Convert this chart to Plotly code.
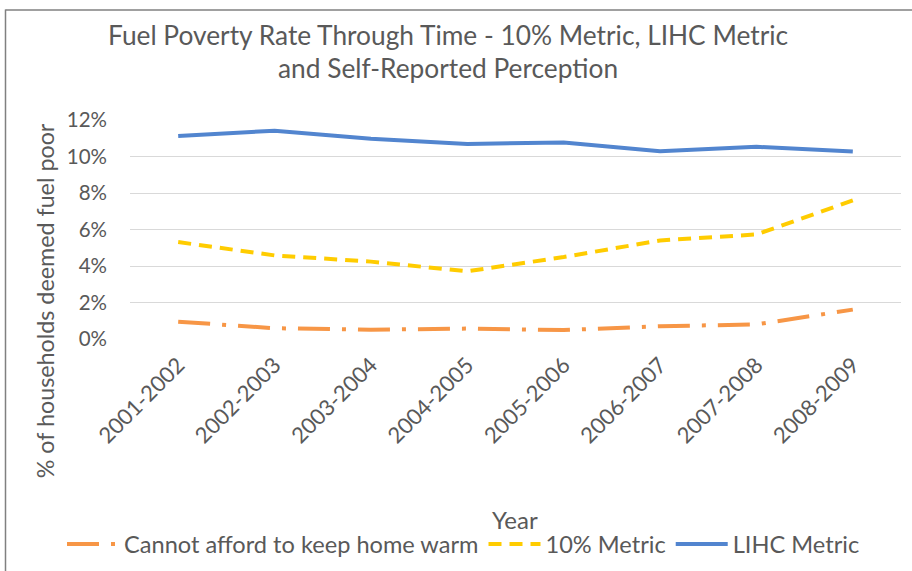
import plotly.graph_objects as go

years = ["2001-2002", "2002-2003", "2003-2004", "2004-2005",
         "2005-2006", "2006-2007", "2007-2008", "2008-2009"]
cannot_afford = [0.95, 0.59, 0.51, 0.57, 0.49, 0.70, 0.80, 1.61]
metric_10 = [5.31, 4.58, 4.24, 3.71, 4.49, 5.40, 5.73, 7.59]
lihc = [11.13, 11.41, 10.97, 10.69, 10.77, 10.29, 10.53, 10.27]
y_ticks = [0, 2, 4, 6, 8, 10, 12]
y_tick_labels = ["0%", "2%", "4%", "6%", "8%", "10%", "12%"]

FONT = "Lato, 'Open Sans', sans-serif"
TXT = "#595959"

fig = go.Figure()
fig.add_trace(go.Scatter(x=years, y=cannot_afford, mode="lines",
                         name="Cannot afford to keep home warm",
                         line=dict(color="#F79646", width=4, dash="32px,12px,4px,12px")))
fig.add_trace(go.Scatter(x=years, y=metric_10, mode="lines", name="10% Metric",
                         line=dict(color="#FFCC00", width=4, dash="13px,8px")))
fig.add_trace(go.Scatter(x=years, y=lihc, mode="lines", name="LIHC Metric",
                         line=dict(color="#5285CF", width=4)))

L, R, T, B = 130, 11, 119.5, 232.3
W, H = 912, 571
pw, ph = W - L - R, H - T - B

def px_x(p):
    return (p - L) / pw

def px_y(p):
    return (H - B - p) / ph

fig.update_layout(
    width=W, height=H,
    margin=dict(l=L, r=R, t=T, b=B, autoexpand=False),
    paper_bgcolor="white", plot_bgcolor="white",
    font=dict(family=FONT, color=TXT, size=20),
    showlegend=True,
    legend=dict(orientation="h", x=px_x(62), y=px_y(544), xanchor="left", yanchor="middle",
                font=dict(size=23.6, color=TXT, family=FONT), bgcolor="rgba(0,0,0,0)",
                itemwidth=52, tracegroupgap=0),
    xaxis=dict(range=[-0.5, 7.5], tickangle=-45, showgrid=False, showline=False,
               ticks="", tickfont=dict(size=22, color=TXT), zeroline=False,
               ticklabelstandoff=8, fixedrange=True),
    yaxis=dict(range=[0, 12], tickvals=y_ticks, ticktext=y_tick_labels,
               showgrid=True, gridcolor="#D9D9D9", gridwidth=1.3, zeroline=False,
               showline=False, ticks="", tickfont=dict(size=20.5, color=TXT),
               ticklabelstandoff=22, fixedrange=True),
    shapes=[
        dict(type="line", xref="paper", yref="paper", x0=px_x(5.5), x1=px_x(5.5),
             y0=px_y(9), y1=px_y(580), line=dict(color="#808080", width=1.5)),
        dict(type="line", xref="paper", yref="paper", x0=px_x(5.5), x1=px_x(920),
             y0=px_y(9.5), y1=px_y(9.5), line=dict(color="#808080", width=1.5)),
    ],
    annotations=[
        dict(text="Fuel Poverty Rate Through Time - 10% Metric, LIHC Metric",
             xref="paper", yref="paper", x=px_x(448), y=px_y(34), showarrow=False,
             xanchor="center", yanchor="middle", font=dict(size=26.3, color=TXT, family=FONT)),
        dict(text="and Self-Reported Perception",
             xref="paper", yref="paper", x=px_x(448), y=px_y(67), showarrow=False,
             xanchor="center", yanchor="middle", font=dict(size=26.3, color=TXT, family=FONT)),
        dict(text="% of households deemed fuel poor", xref="paper", yref="paper",
             x=px_x(45), y=px_y(301), textangle=-90, showarrow=False,
             xanchor="center", yanchor="middle", font=dict(size=23.3, color=TXT, family=FONT)),
        dict(text="Year", xref="paper", yref="paper", x=px_x(515), y=px_y(519),
             showarrow=False, xanchor="center", yanchor="middle",
             font=dict(size=24, color=TXT, family=FONT)),
    ],
)

fig.write_html("out.html", config={"displayModeBar": False},
               post_script="document.body.style.margin='0px';")
